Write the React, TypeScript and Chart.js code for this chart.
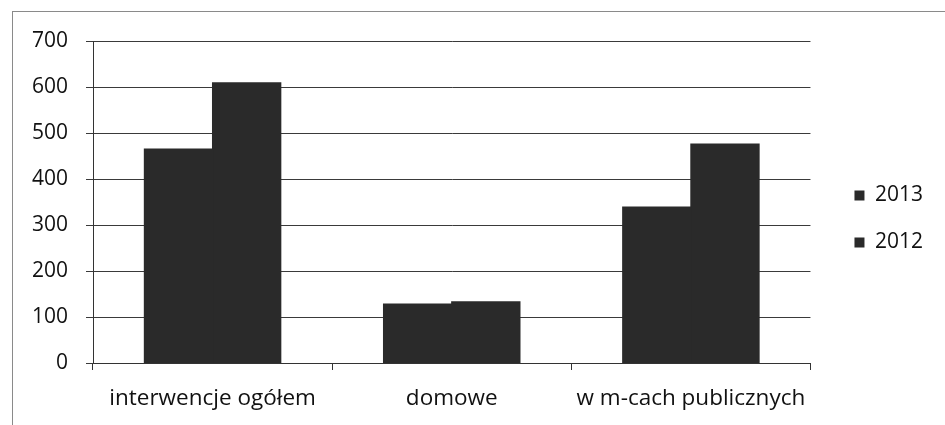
import React, { useEffect, useRef } from "react";
import { Chart, registerables } from "chart.js";

Chart.register(...registerables);

const categories = ["interwencje ogółem", "domowe", "w m-cach publicznych"];
const seriesLabels = ["2013", "2012"];
const values2013 = [465, 128, 339];
const values2012 = [609, 133, 476];
const yTicks = [0, 100, 200, 300, 400, 500, 600, 700];

const FONT = "'Open Sans', Lato, sans-serif";
const BAR = "#2a2a2a";

export default function App() {
  const ref = useRef<HTMLCanvasElement | null>(null);

  useEffect(() => {
    if (!ref.current) return;
    const chart = new Chart(ref.current, {
      type: "bar",
      data: {
        labels: categories,
        datasets: [
          {
            label: seriesLabels[0],
            data: values2013,
            backgroundColor: BAR,
            borderWidth: 0,
            inflateAmount: 0.6,
            barPercentage: 1,
            categoryPercentage: 0.57,
            yAxisID: "y",
            xAxisID: "x",
          },
          {
            label: seriesLabels[1],
            data: values2012,
            backgroundColor: BAR,
            borderWidth: 0,
            inflateAmount: 0.6,
            barPercentage: 1,
            categoryPercentage: 0.57,
            yAxisID: "y",
            xAxisID: "x",
          },
        ],
      },
      options: {
        animation: false,
        responsive: true,
        maintainAspectRatio: false,
        layout: { padding: { top: 13, bottom: 0, left: 0, right: 12 } },
        plugins: {
          tooltip: { enabled: false },
          legend: {
            position: "right",
            labels: {
              boxWidth: 10,
              boxHeight: 10,
              padding: 26,
              color: "#111",
              font: { family: FONT, size: 21 },
            },
          },
        },
        scales: {
          x: {
            position: "bottom",
            grid: {
              display: true,
              drawOnChartArea: false,
              drawTicks: true,
              tickLength: 7,
              color: "#333",
              offset: true,
            },
            border: { display: true, color: "#333", width: 1 },
            ticks: {
              color: "#111",
              padding: 15,
              maxRotation: 0,
              autoSkip: false,
              font: { family: FONT, size: 22.5 },
            },
            afterFit: (s: any) => {
              s.height = 62;
            },
          },
          xTop: {
            type: "category",
            position: "top",
            display: true,
            grid: { display: false, drawTicks: false },
            border: { display: false },
            ticks: { display: false },
            afterFit: (s: any) => {
              s.height = 28;
            },
          },
          y: {
            min: 0,
            max: 700,
            afterBuildTicks: (s: any) => {
              s.ticks = yTicks.map((v) => ({ value: v }));
            },
            grid: {
              color: "#3a3a3a",
              lineWidth: 1,
              tickLength: 7,
            },
            border: { display: true, color: "#333", width: 1 },
            ticks: {
              color: "#111",
              padding: 18,
              font: { family: FONT, size: 21 },
            },
            afterFit: (s: any) => {
              s.width = 93;
            },
          },
          yDummy: {
            type: "linear",
            position: "right",
            display: true,
            grid: { display: false, drawTicks: false },
            border: { display: false },
            ticks: { display: false },
            afterFit: (s: any) => {
              s.width = 18;
            },
          },
        },
      },
    });
    return () => chart.destroy();
  }, []);

  return (
    <div style={{ position: "absolute", left: 0, top: 0, width: 945, height: 425, background: "#fff" }}>
      <div
        style={{
          position: "absolute",
          left: 12,
          top: 11,
          right: 0,
          bottom: 0,
          borderTop: "1px solid #8a8a8a",
          borderLeft: "1px solid #8a8a8a",
        }}
      />
      <div style={{ position: "absolute", left: 0, top: 0, width: 945, height: 425 }}>
        <canvas ref={ref} />
      </div>
    </div>
  );
}
